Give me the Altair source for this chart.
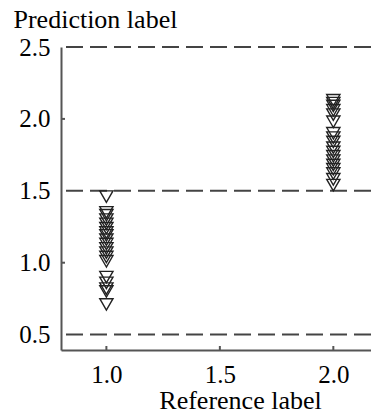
import altair as alt
import pandas as pd

# Data
class1_pred = [1.46, 1.35, 1.33, 1.30, 1.27, 1.24, 1.21, 1.19, 1.16, 1.13,
               1.10, 1.07, 1.04, 1.01, 0.90, 0.86, 0.82, 0.80, 0.71]
class2_pred = [2.13, 2.11, 2.09, 2.06, 2.03, 1.98, 1.90, 1.87, 1.84, 1.80,
               1.77, 1.74, 1.71, 1.68, 1.65, 1.62, 1.58, 1.54]
ref_values = [1.0, 2.0]
boundaries = [0.5, 1.5, 2.5]
y_ticks = [0.5, 1.0, 1.5, 2.0, 2.5]
x_ticks = [1.0, 1.5, 2.0]
inner_y_ticks = [1.0, 2.0]

W, H = 310, 303
FONT = "Liberation Serif"

pts = pd.DataFrame({
    "ref": [ref_values[0]] * len(class1_pred) + [ref_values[1]] * len(class2_pred),
    "pred": class1_pred + class2_pred,
})
bnd = pd.DataFrame({"b": boundaries})
xt = pd.DataFrame({"t": x_ticks})
yt = pd.DataFrame({"t": inner_y_ticks})

xscale = alt.Scale(domain=[0.8, 2.166], nice=False, zero=False)
yscale = alt.Scale(domain=[0.393, 2.5], nice=False, zero=False)

xaxis = alt.Axis(values=x_ticks, format=".1f", title="Reference label",
                 titleAngle=0, titleX=179, titleY=58, titleAlign="center",
                 titleBaseline="alphabetic", labelPadding=12)
yaxis = alt.Axis(values=y_ticks, format=".1f", title="Prediction label",
                 titleAngle=0, titleX=-48, titleY=-20, titleAlign="left",
                 titleBaseline="alphabetic", labelPadding=11)

points = alt.Chart(pts).mark_point(
    shape="triangle-down", filled=False, size=175, color="#222", strokeWidth=1.4, opacity=1
).encode(
    x=alt.X("ref:Q", scale=xscale, axis=xaxis),
    y=alt.Y("pred:Q", scale=yscale, axis=yaxis),
)

lines = alt.Chart(bnd).mark_rule(
    color="#444", strokeWidth=2, strokeDash=[17, 7]
).encode(y=alt.Y("b:Q", scale=yscale))

xticks = alt.Chart(xt).mark_rule(color="#555", strokeWidth=2).encode(
    x=alt.X("t:Q", scale=xscale), y=alt.value(H), y2=alt.value(H - 4)
)
yticks = alt.Chart(yt).mark_rule(color="#555", strokeWidth=2).encode(
    y=alt.Y("t:Q", scale=yscale), x=alt.value(0), x2=alt.value(4)
)

chart = alt.layer(lines, xticks, yticks, points).properties(
    width=W, height=H,
    autosize=alt.AutoSizeParams(type="none"),
    padding={"left": 61, "top": 47, "right": 0, "bottom": 66},
).configure_view(stroke=None).configure_axis(
    grid=False, ticks=False, domainColor="#555", domainWidth=2,
    labelFont=FONT, labelFontSize=25, labelColor="#000",
    titleFont=FONT, titleFontSize=26, titleColor="#000", titleFontWeight="normal",
)

chart.save("out.html", embed_options={"renderer": "svg", "actions": False})
